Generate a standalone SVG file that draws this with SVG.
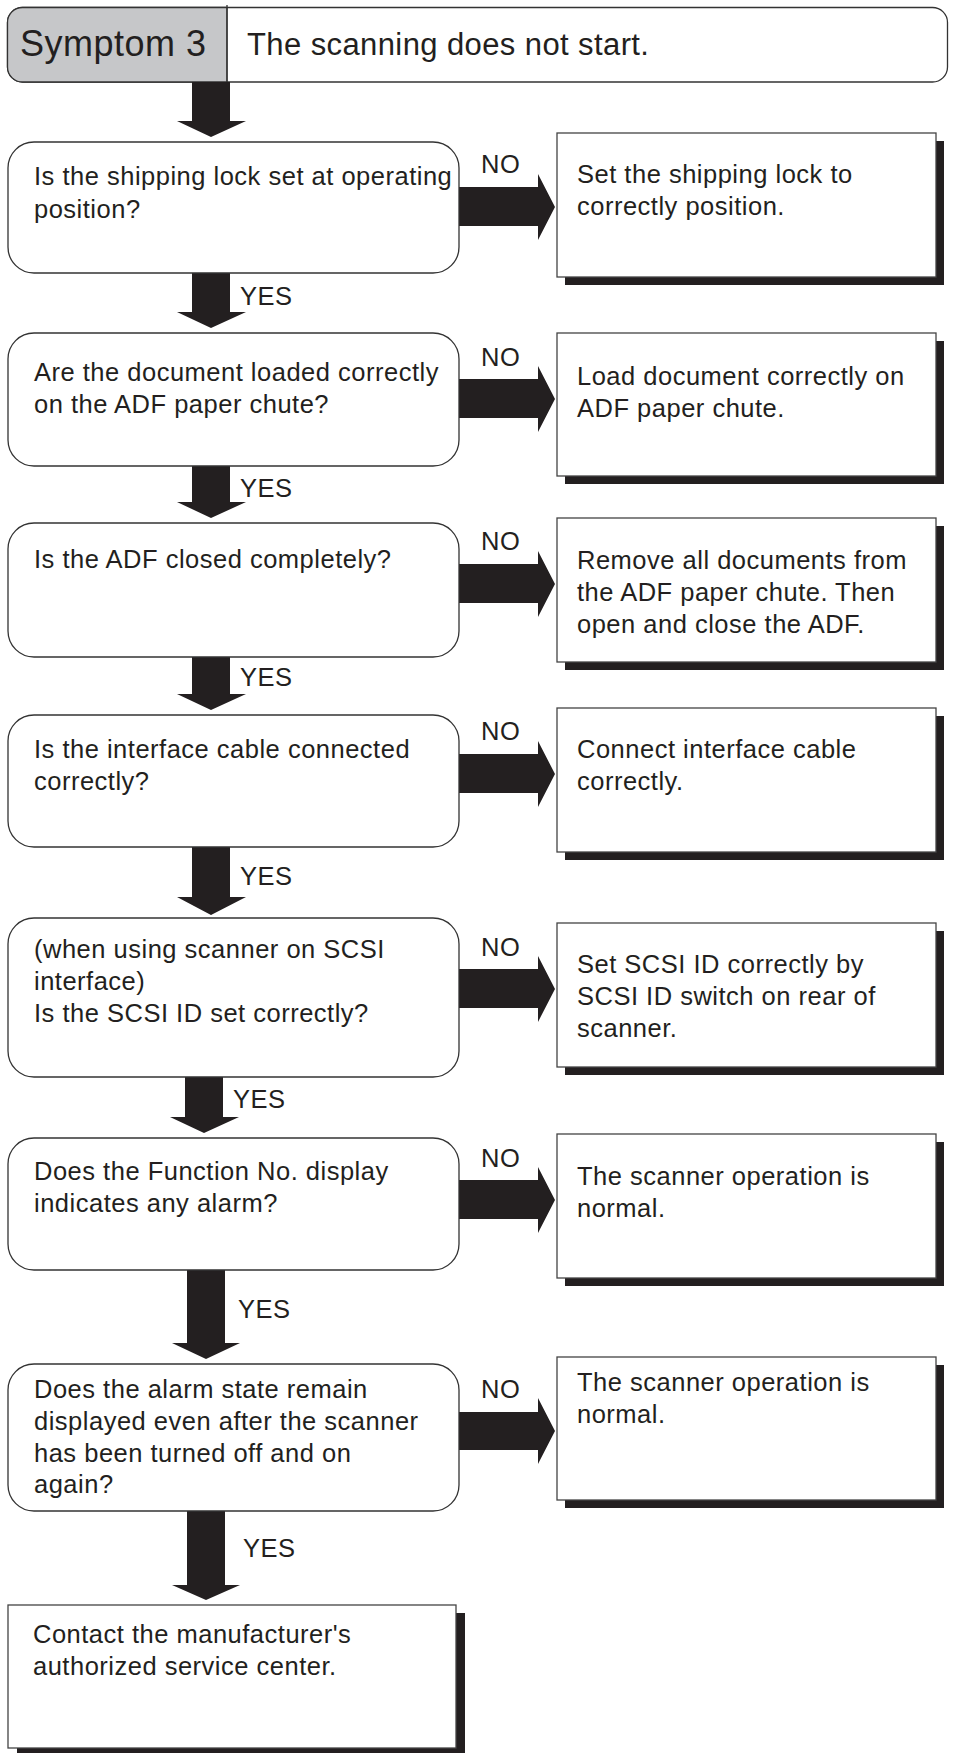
<svg xmlns="http://www.w3.org/2000/svg" width="953" height="1753" viewBox="0 0 953 1753">
<style>
.dec{fill:#fff;stroke:#333;stroke-width:1.3}
.box{fill:#fff;stroke:#444;stroke-width:1.3}
.sh{fill:#231f20}
.arr{fill:#231f20}
text{font-family:"Liberation Sans",Arial,Helvetica,sans-serif;fill:#231f20}
.t{font-size:25.5px;letter-spacing:0.5px}
.h1{font-size:36px;letter-spacing:0.5px}
.h2{font-size:31px;letter-spacing:0.4px}
</style>
<rect width="953" height="1753" fill="#fff"/>
<g id="header">
<rect x="7.5" y="7.5" width="940" height="74.5" rx="15" fill="#fff" stroke="#333" stroke-width="1.3"/>
<path d="M227,7.5 H22.5 A15,15 0 0 0 7.5,22.5 V67 A15,15 0 0 0 22.5,82 H227 Z" fill="#c6c7c9" stroke="#333" stroke-width="1.3"/>
<line x1="227" y1="5" x2="227" y2="82" stroke="#333" stroke-width="1.3"/>
<text class="h1" x="20" y="56">Symptom 3</text>
<text class="h2" x="247" y="55">The scanning does not start.</text>
</g>
<g id="connectors">
<path class="arr" d="M192,82 H230 V121 H246 L211,137 L177,121 H192 Z"/>
<path class="arr" d="M192,273 H230 V312 H246 L211,328 L177,312 H192 Z"/>
<path class="arr" d="M192,466 H230 V502 H246 L211,518 L177,502 H192 Z"/>
<path class="arr" d="M192,657 H230 V694 H246 L211,710 L177,694 H192 Z"/>
<path class="arr" d="M192,847 H230 V897 H246 L211,915 L177,897 H192 Z"/>
<path class="arr" d="M185,1077 H223 V1117 H239 L204,1133 L170,1117 H185 Z"/>
<path class="arr" d="M187,1270 H225 V1343 H240 L206,1359 L172,1343 H187 Z"/>
<path class="arr" d="M187,1511 H225 V1585 H240 L206,1600 L172,1585 H187 Z"/>
<text class="t" x="240" y="305">YES</text>
<text class="t" x="240" y="497">YES</text>
<text class="t" x="240" y="686">YES</text>
<text class="t" x="240" y="885">YES</text>
<text class="t" x="233" y="1108">YES</text>
<text class="t" x="238" y="1318">YES</text>
<text class="t" x="243" y="1557">YES</text>
<path class="arr" d="M459,187 H538 V174 L555,207 L538,240 V226 H459 Z"/>
<path class="arr" d="M459,379 H538 V366 L555,399 L538,432 V418 H459 Z"/>
<path class="arr" d="M459,564 H538 V551 L555,584 L538,617 V603 H459 Z"/>
<path class="arr" d="M459,754 H538 V741 L555,774 L538,807 V793 H459 Z"/>
<path class="arr" d="M459,969 H538 V956 L555,989 L538,1022 V1008 H459 Z"/>
<path class="arr" d="M459,1180 H538 V1167 L555,1200 L538,1233 V1219 H459 Z"/>
<path class="arr" d="M459,1412 H538 V1398 L555,1431 L538,1464 V1450 H459 Z"/>
<text class="t" x="481" y="173">NO</text>
<text class="t" x="481" y="366">NO</text>
<text class="t" x="481" y="550">NO</text>
<text class="t" x="481" y="740">NO</text>
<text class="t" x="481" y="956">NO</text>
<text class="t" x="481" y="1167">NO</text>
<text class="t" x="481" y="1398">NO</text>
</g>
<g id="d1"><rect class="dec" x="8" y="142" width="451" height="131" rx="26"/>
<text class="t" x="34" y="185">Is the shipping lock set at operating</text><text class="t" x="34" y="218">position?</text></g>
<g id="r1"><rect class="sh" x="565" y="141" width="379" height="144"/><rect class="box" x="557" y="133" width="379" height="144"/>
<text class="t" x="577" y="183">Set the shipping lock to</text><text class="t" x="577" y="215">correctly position.</text></g>
<g id="d2"><rect class="dec" x="8" y="333" width="451" height="133" rx="26"/>
<text class="t" x="34" y="381">Are the document loaded correctly</text><text class="t" x="34" y="413">on the ADF paper chute?</text></g>
<g id="r2"><rect class="sh" x="565" y="341" width="379" height="143"/><rect class="box" x="557" y="333" width="379" height="143"/>
<text class="t" x="577" y="385">Load document correctly on</text><text class="t" x="577" y="417">ADF paper chute.</text></g>
<g id="d3"><rect class="dec" x="8" y="523" width="451" height="134" rx="26"/>
<text class="t" x="34" y="568">Is the ADF closed completely?</text></g>
<g id="r3"><rect class="sh" x="565" y="526" width="379" height="144"/><rect class="box" x="557" y="518" width="379" height="144"/>
<text class="t" x="577" y="569">Remove all documents from</text><text class="t" x="577" y="601">the ADF paper chute. Then</text><text class="t" x="577" y="633">open and close the ADF.</text></g>
<g id="d4"><rect class="dec" x="8" y="715" width="451" height="132" rx="26"/>
<text class="t" x="34" y="758">Is the interface cable connected</text><text class="t" x="34" y="790">correctly?</text></g>
<g id="r4"><rect class="sh" x="565" y="716" width="379" height="144"/><rect class="box" x="557" y="708" width="379" height="144"/>
<text class="t" x="577" y="758">Connect interface cable</text><text class="t" x="577" y="790">correctly.</text></g>
<g id="d5"><rect class="dec" x="8" y="918" width="451" height="159" rx="26"/>
<text class="t" x="34" y="958">(when using scanner on SCSI</text><text class="t" x="34" y="990">interface)</text><text class="t" x="34" y="1022">Is the SCSI ID set correctly?</text></g>
<g id="r5"><rect class="sh" x="565" y="931" width="379" height="144"/><rect class="box" x="557" y="923" width="379" height="144"/>
<text class="t" x="577" y="973">Set SCSI ID correctly by</text><text class="t" x="577" y="1005">SCSI ID switch on rear of</text><text class="t" x="577" y="1037">scanner.</text></g>
<g id="d6"><rect class="dec" x="8" y="1138" width="451" height="132" rx="26"/>
<text class="t" x="34" y="1180">Does the Function No. display</text><text class="t" x="34" y="1212">indicates any alarm?</text></g>
<g id="r6"><rect class="sh" x="565" y="1142" width="379" height="144"/><rect class="box" x="557" y="1134" width="379" height="144"/>
<text class="t" x="577" y="1185">The scanner operation is</text><text class="t" x="577" y="1217">normal.</text></g>
<g id="d7"><rect class="dec" x="8" y="1364" width="451" height="147" rx="26"/>
<text class="t" x="34" y="1398">Does the alarm state remain</text><text class="t" x="34" y="1430">displayed even after the scanner</text><text class="t" x="34" y="1462">has been turned off and on</text><text class="t" x="34" y="1493">again?</text></g>
<g id="r7"><rect class="sh" x="565" y="1365" width="379" height="143"/><rect class="box" x="557" y="1357" width="379" height="143"/>
<text class="t" x="577" y="1391">The scanner operation is</text><text class="t" x="577" y="1423">normal.</text></g>
<g id="final"><rect class="sh" x="17" y="1613" width="448" height="143"/><rect class="box" x="8" y="1605" width="448" height="143"/>
<text class="t" x="33" y="1643">Contact the manufacturer's</text><text class="t" x="33" y="1675">authorized service center.</text></g>
</svg>
